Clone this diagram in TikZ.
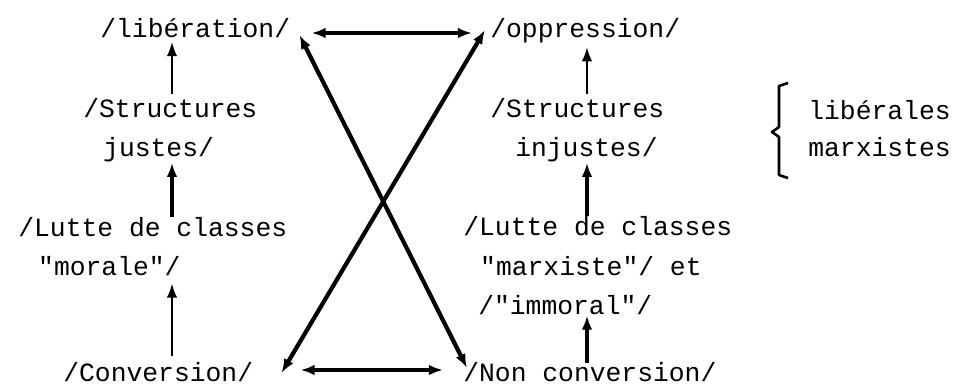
\documentclass[tikz,border=0pt]{standalone}
\usepackage{fontspec}
\newfontfamily\typo{Liberation Mono}
\usetikzlibrary{arrows.meta,calc}

\tikzset{
  txt/.style={font=\typo\fontsize{15}{22.7}\selectfont, inner sep=0pt, anchor=base west, align=left},
  thin/.style={-{Latex[length=8pt,width=6pt]}, line width=1pt},
  thick/.style={-{Latex[length=8pt,width=6pt]}, line width=2pt},
  dbl/.style={{Latex[length=8pt,width=6pt]}-{Latex[length=8pt,width=6pt]}, line width=2pt},
  accol/.style={line width=1.5pt, line join=round}
}

\begin{document}
\begin{tikzpicture}[x=0.02cm, y=-0.02cm]
\useasboundingbox (0,0) rectangle (975,388);

% Colonne gauche
\node[txt] (lib) at (100,38) {/libération/};
\node[txt] (just) at (83,157) {/Structures\\\hspace*{11.3pt}justes/};
\node[txt] (lutteg) at (18,276) {/Lutte de classes\\\hspace*{11.3pt}"morale"/};
\node[txt] (conv) at (63,382) {/Conversion/};

% Colonne droite
\node[txt] (opp) at (490,38) {/oppression/};
\node[txt] (injust) at (490,157) {/Structures\\\hspace*{14.2pt}injustes/};
\node[txt] (lutted) at (463,315) {/Lutte de classes\\\hspace*{9.6pt}"marxiste"/ et\\\hspace*{8.5pt}/"immoral"/};
\node[txt] (nonconv) at (463,382) {/Non conversion/};

% Accolade
\node[txt] (libe) at (808,120) {libérales};
\node[txt] (marx) at (808,157) {marxistes};
\draw[accol] ($(libe.base west)+(-20,-37)$) -- ++(-9,3) -- ++(0,41) -- ++(-7,5)
  -- ++(7,5) -- ++(0,38) -- ++(9,3);

% Fleches verticales
\coordinate (gcol) at (172,0);
\coordinate (dcol) at (587,0);
\draw[thin, shorten <=2pt, shorten >=2pt] (gcol |- just.north) -- (gcol |- lib.south);
\draw[thick] (gcol |- lutteg.north) -- (gcol |- just.south);
\draw[thin, shorten <=4pt, shorten >=4pt] (gcol |- conv.north) -- (gcol |- lutteg.south);
\draw[thin, shorten <=2pt, shorten >=2pt] (dcol |- injust.north) -- (dcol |- opp.south);
\draw[thick] (dcol |- lutted.north) -- (dcol |- injust.south);
\draw[thick] (dcol |- nonconv.north) -- (dcol |- lutted.south);

% Fleches horizontales et croisees
\draw[dbl] ($(lib.base east)+(21,-5)$) -- ($(opp.base west)+(-18,-5)$);
\draw[dbl] ($(conv.base east)+(47,-12)$) -- ($(nonconv.base west)+(-20,-12)$);
\draw[dbl, line width=2.4pt] ($(lib.base east)+(9,-3)$) -- ($(nonconv.base west)+(4,-14)$);
\draw[dbl, line width=2.4pt] ($(opp.base west)+(-5,-8)$) -- ($(conv.base east)+(28,-9)$);

\end{tikzpicture}
\end{document}
